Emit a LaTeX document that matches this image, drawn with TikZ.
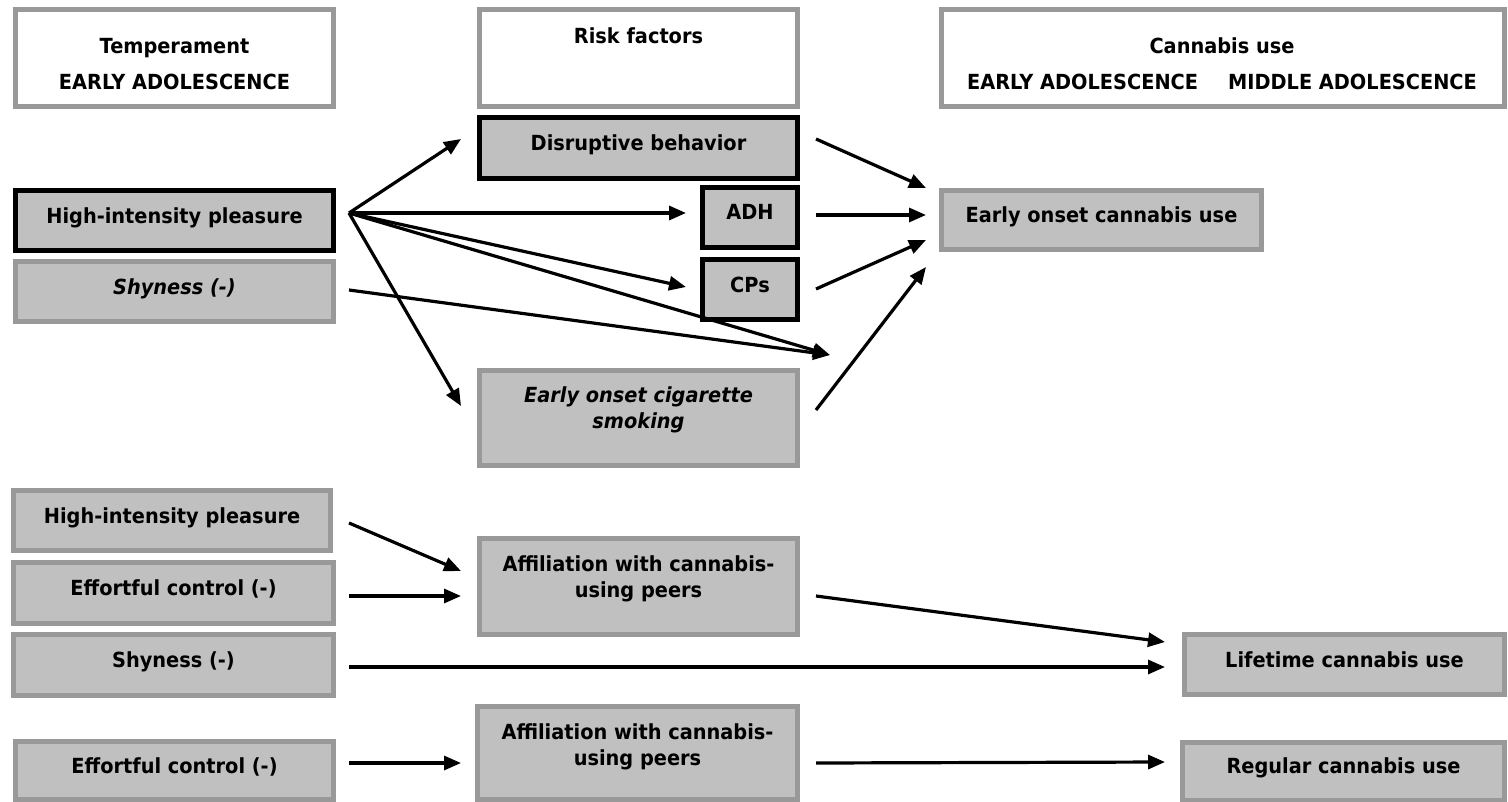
\documentclass[tikz,border=0pt]{standalone}
\usepackage{fontspec}
\setmainfont{DejaVu Sans}[FakeStretch=0.93]
\usetikzlibrary{arrows.meta,calc}
\definecolor{bordergray}{HTML}{999999}
\definecolor{boxgray}{HTML}{C0C0C0}
\begin{document}
\begin{tikzpicture}[x=0.5pt,y=-0.5pt,
  every node/.style={font=\fontsize{10.4pt}{13pt}\selectfont\bfseries},
  gbox/.style={draw=bordergray, fill=boxgray, line width=2.5pt, rectangle, inner sep=0pt},
  kbox/.style={gbox, draw=black},
  hbox/.style={gbox, fill=white},
  sl/.style={text height=0.75em, text depth=0.5em},
  txt/.style={align=center, inner sep=0pt},
  arr/.style={line width=1.6pt, -{Triangle[length=8.5pt,width=7pt]}}]
\useasboundingbox (0,0) rectangle (1508,802);
% header boxes
\node[hbox, minimum width=159pt, minimum height=48.5pt] (hT) at (174.5,58) {};
\node[txt, font=\fontsize{10.4pt}{18pt}\selectfont\bfseries] (hTt) at (174.5,64) {Temperament\\EARLY ADOLESCENCE};
\node[hbox, minimum width=159pt, minimum height=48.5pt] (hR) at (638.5,58) {};
\node[txt] (hRt) at (638.5,36) {Risk factors};
\node[hbox, minimum width=281.5pt, minimum height=48.5pt] (hC) at (1223,58) {};
\node[txt, font=\fontsize{10.4pt}{18pt}\selectfont\bfseries] (hCt) at (1222,64) {Cannabis use\\EARLY ADOLESCENCE\hspace{15pt}MIDDLE ADOLESCENCE};
% top block
\node[kbox, sl, minimum width=159pt, minimum height=30pt] (hip1) at (174.5,220.5) {High-intensity pleasure};
\node[gbox, sl, minimum width=159pt, minimum height=30pt] (shy1) at (174.5,291.5) {\itshape Shyness (-)};
\node[kbox, sl, minimum width=159pt, minimum height=30.5pt] (dis) at (638.5,148) {Disruptive behavior};
\node[kbox, sl, minimum width=47.5pt, minimum height=30pt] (adh) at (750,217.5) {ADH};
\node[kbox, sl, minimum width=47.5pt, minimum height=30pt] (cps) at (750,289.5) {CPs};
\node[gbox, minimum width=159pt, minimum height=47.5pt] (cig) at (638.5,418) {};
\node[txt, font=\fontsize{10.4pt}{13pt}\selectfont\bfseries\itshape] (cigt) at (638.5,410) {Early onset cigarette\\smoking};
\node[gbox, sl, minimum width=160pt, minimum height=29.5pt] (eoc) at (1101.5,220) {Early onset cannabis use};
% lower block
\node[gbox, sl, minimum width=158.5pt, minimum height=30pt] (hip2) at (172,520.5) {High-intensity pleasure};
\node[gbox, sl, minimum width=160pt, minimum height=30.5pt] (ec1) at (173.5,593) {Effortful control (-)};
\node[gbox, sl, minimum width=160pt, minimum height=30.5pt] (shy2) at (173.5,665) {Shyness (-)};
\node[gbox, sl, minimum width=159pt, minimum height=29pt] (ec2) at (174.5,770.5) {Effortful control (-)};
\node[gbox, minimum width=159pt, minimum height=48pt] (aff1) at (638.5,586.5) {};
\node[txt] (aff1t) at (638.5,579) {Affiliation with cannabis-\\using peers};
\node[gbox, minimum width=160pt, minimum height=46.5pt] (aff2) at (637.5,753) {};
\node[txt] (aff2t) at (637.5,747) {Affiliation with cannabis-\\using peers};
\node[gbox, sl, minimum width=160pt, minimum height=30pt] (life) at (1344.5,664.5) {Lifetime cannabis use};
\node[gbox, sl, minimum width=161pt, minimum height=29pt] (reg) at (1343.5,771) {Regular cannabis use};
% connector points
\coordinate (h1o) at ($(hip1.east)+(13,-7.5)$);
\coordinate (s1o) at ($(shy1.east)+(13,-1.5)$);
\coordinate (xpt) at (830,355);
% arrows top
\draw[arr] (h1o) -- ($(dis.west)+(-16,-9)$);
\draw[arr] (h1o) -- ($(adh.west)+(-14,-4.5)$);
\draw[arr] (h1o) -- ($(cps.west)+(-14,-2.5)$);
\draw[arr] (h1o) -- (xpt);
\draw[arr] (h1o) -- ($(cig.west)+(-16,-12)$);
\draw[arr] (s1o) -- (xpt);
\draw[arr] ($(dis.east)+(16,-9)$) -- ($(eoc.west)+(-13,-32)$);
\draw[arr] ($(adh.east)+(16,-2.5)$) -- ($(eoc.west)+(-13,-5)$);
\draw[arr] ($(cps.east)+(16,-0.5)$) -- ($(eoc.west)+(-13,20)$);
\draw[arr] ($(cig.east)+(16,-8)$) -- ($(eoc.west)+(-13,47)$);
% arrows bottom
\draw[arr] ($(hip2.east)+(16,2.5)$) -- ($(aff1.west)+(-16,-15.5)$);
\draw[arr] ($(ec1.east)+(13,3)$) -- ($(aff1.west)+(-16,9.5)$);
\draw[arr] ($(aff1.east)+(16,9.5)$) -- ($(life.west)+(-17,-22.5)$);
\draw[arr] ($(shy2.east)+(13,2)$) -- ($(life.west)+(-17,2.5)$);
\draw[arr] ($(ec2.east)+(13,-7.5)$) -- ($(aff2.west)+(-14,10)$);
\draw[arr] ($(aff2.east)+(16,10)$) -- ($(reg.west)+(-15,-9)$);
\end{tikzpicture}
\end{document}
